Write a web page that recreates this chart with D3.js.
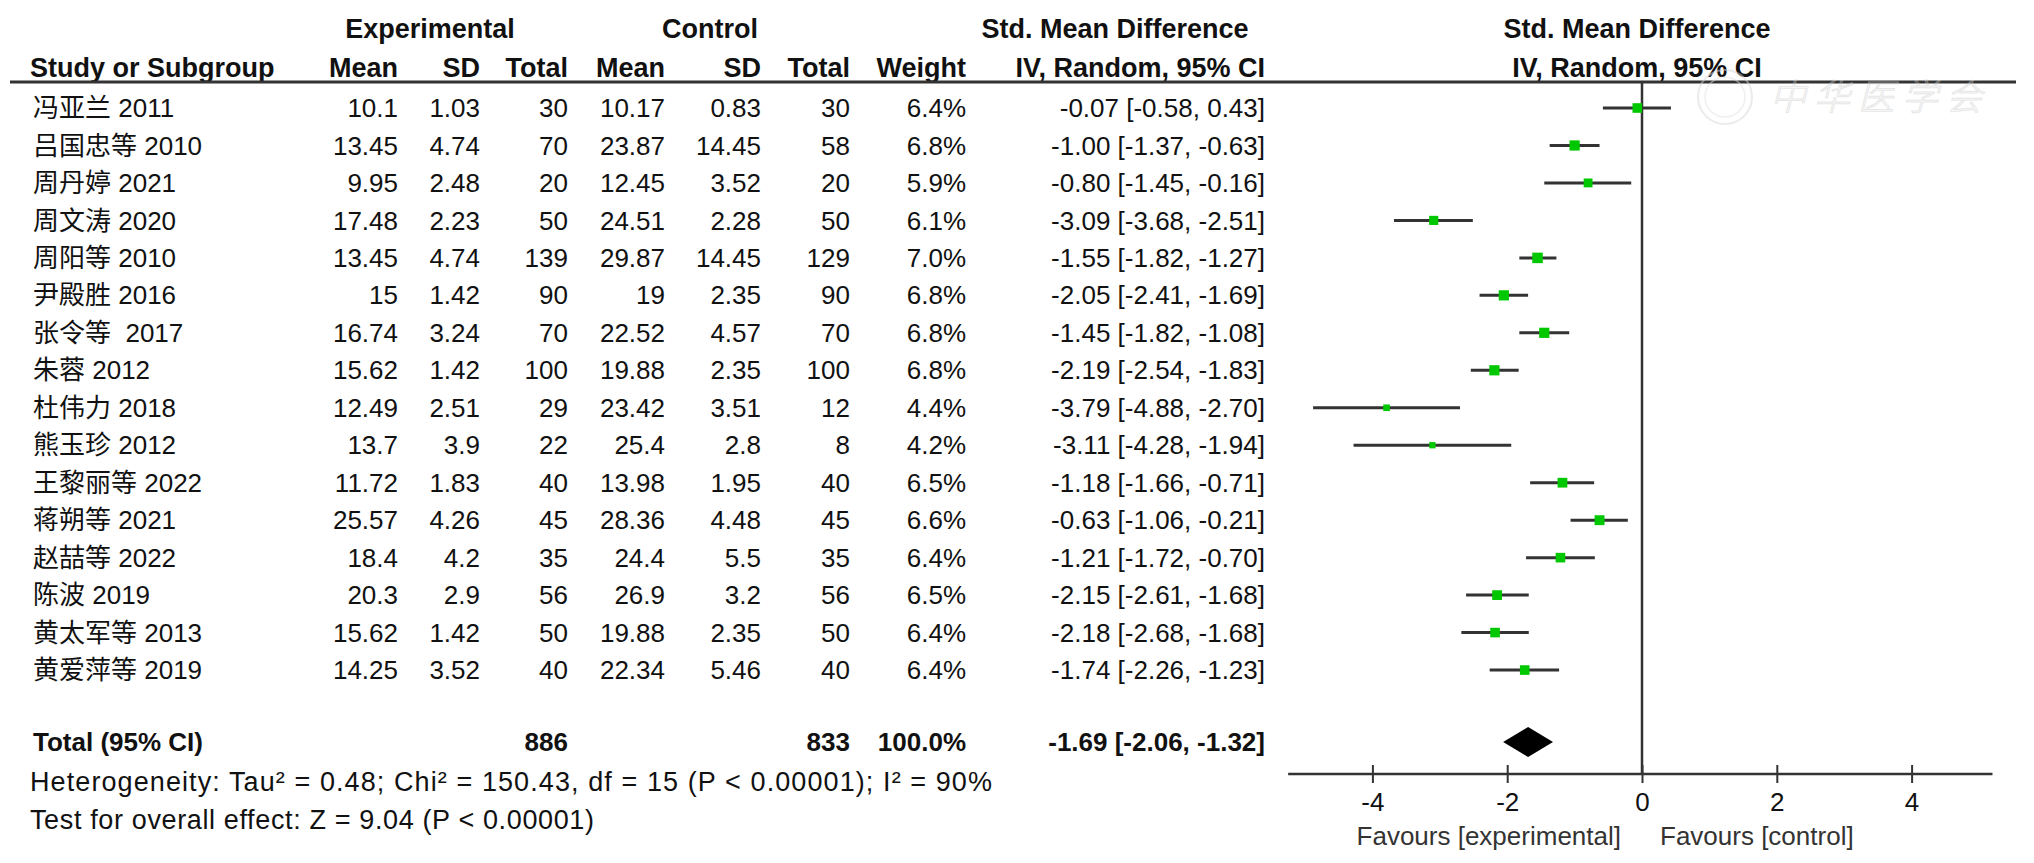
<!DOCTYPE html>
<html>
<head>
<meta charset="utf-8">
<script src="https://cdn.jsdelivr.net/npm/d3@7"></script>
<style>
  body { margin: 0; background: #fff; }
  svg text { font-family: "Liberation Sans", Arial, "Noto Sans CJK SC", sans-serif; fill: #111; white-space: pre; }
  .hdr { font-weight: bold; font-size: 27px; }
  .cell { font-size: 26px; }
  .tot { font-size: 26px; font-weight: bold; }
</style>
</head>
<body>
<div id="chart"></div>
<script>
// dados
const studies = ["冯亚兰 2011", "吕国忠等 2010", "周丹婷 2021", "周文涛 2020", "周阳等 2010", "尹殿胜 2016",
    "张令等  2017", "朱蓉 2012", "杜伟力 2018", "熊玉珍 2012", "王黎丽等 2022", "蒋朔等 2021",
    "赵喆等 2022", "陈波 2019", "黄太军等 2013", "黄爱萍等 2019"];
const expMean = [10.1, 13.45, 9.95, 17.48, 13.45, 15, 16.74, 15.62, 12.49, 13.7, 11.72, 25.57, 18.4, 20.3, 15.62, 14.25];
const expSD = [1.03, 4.74, 2.48, 2.23, 4.74, 1.42, 3.24, 1.42, 2.51, 3.9, 1.83, 4.26, 4.2, 2.9, 1.42, 3.52];
const expTotal = [30, 70, 20, 50, 139, 90, 70, 100, 29, 22, 40, 45, 35, 56, 50, 40];
const ctlMean = [10.17, 23.87, 12.45, 24.51, 29.87, 19, 22.52, 19.88, 23.42, 25.4, 13.98, 28.36, 24.4, 26.9, 19.88, 22.34];
const ctlSD = [0.83, 14.45, 3.52, 2.28, 14.45, 2.35, 4.57, 2.35, 3.51, 2.8, 1.95, 4.48, 5.5, 3.2, 2.35, 5.46];
const ctlTotal = [30, 58, 20, 50, 129, 90, 70, 100, 12, 8, 40, 45, 35, 56, 50, 40];
const weights = [6.4, 6.8, 5.9, 6.1, 7.0, 6.8, 6.8, 6.8, 4.4, 4.2, 6.5, 6.6, 6.4, 6.5, 6.4, 6.4];
const smd = [-0.07, -1.00, -0.80, -3.09, -1.55, -2.05, -1.45, -2.19, -3.79, -3.11, -1.18, -0.63, -1.21, -2.15, -2.18, -1.74];
const ciLow = [-0.58, -1.37, -1.45, -3.68, -1.82, -2.41, -1.82, -2.54, -4.88, -4.28, -1.66, -1.06, -1.72, -2.61, -2.68, -2.26];
const ciHigh = [0.43, -0.63, -0.16, -2.51, -1.27, -1.69, -1.08, -1.83, -2.70, -1.94, -0.71, -0.21, -0.70, -1.68, -1.68, -1.23];

const totalExp = 886, totalCtl = 833, totalWeight = 100.0;
const pooled = { est: -1.69, lo: -2.06, hi: -1.32 };
const axisTicks = [-4, -2, 0, 2, 4];
const axisExtent = [-5.25, 5.2];
const heterogeneity = "Heterogeneity: Tau² = 0.48; Chi² = 150.43, df = 15 (P < 0.00001); I² = 90%";
const overallTest = "Test for overall effect: Z = 9.04 (P < 0.00001)";

const W = 2034, H = 863;
const svg = d3.select("#chart").append("svg").attr("width", W).attr("height", H);

const rowY = i => 108 + i * 37.47;
const totalY = 742;

// colunas (posição direita)
const cols = [
    { key: "expMean", x: 398, vals: expMean.map(String), head: "Mean" },
    { key: "expSD", x: 480, vals: expSD.map(String), head: "SD" },
    { key: "expTotal", x: 568, vals: expTotal.map(String), head: "Total" },
    { key: "ctlMean", x: 665, vals: ctlMean.map(String), head: "Mean" },
    { key: "ctlSD", x: 761, vals: ctlSD.map(String), head: "SD" },
    { key: "ctlTotal", x: 850, vals: ctlTotal.map(String), head: "Total" },
    { key: "weight", x: 966, vals: weights.map(w => w.toFixed(1) + "%"), head: "Weight" },
    { key: "ci", x: 1265, vals: smd.map((d, i) => `${d.toFixed(2)} [${ciLow[i].toFixed(2)}, ${ciHigh[i].toFixed(2)}]`), head: "IV, Random, 95% CI" }
];

// cabeçalho
const h1 = 38, h2 = 77;
[["Experimental", 430], ["Control", 710], ["Std. Mean Difference", 1115], ["Std. Mean Difference", 1637]]
    .forEach(([t, x]) => svg.append("text").attr("class", "hdr").attr("x", x).attr("y", h1)
        .attr("text-anchor", "middle").text(t));
svg.append("text").attr("class", "hdr").attr("x", 30).attr("y", h2).text("Study or Subgroup");
cols.forEach(c => svg.append("text").attr("class", "hdr").attr("x", c.x).attr("y", h2)
    .attr("text-anchor", "end").text(c.head));
svg.append("text").attr("class", "hdr").attr("x", 1637).attr("y", h2)
    .attr("text-anchor", "middle").text("IV, Random, 95% CI");

svg.append("line").attr("x1", 10).attr("x2", 2016).attr("y1", 82).attr("y2", 82)
    .attr("stroke", "#333").attr("stroke-width", 3);

// linhas da tabela
svg.append("g").selectAll("text").data(studies).enter().append("text")
    .attr("class", "cell").attr("x", 33).attr("y", (d, i) => rowY(i)).attr("dy", "0.35em").text(d => d);

cols.forEach(c => {
    svg.append("g").selectAll("text").data(c.vals).enter().append("text")
        .attr("class", "cell").attr("x", c.x).attr("y", (d, i) => rowY(i)).attr("dy", "0.35em")
        .attr("text-anchor", "end").text(d => d);
});

// total
svg.append("text").attr("class", "tot").attr("x", 33).attr("y", totalY).attr("dy", "0.35em").text("Total (95% CI)");
[[totalExp, 568], [totalCtl, 850], [totalWeight.toFixed(1) + "%", 966],
 [`${pooled.est.toFixed(2)} [${pooled.lo.toFixed(2)}, ${pooled.hi.toFixed(2)}]`, 1265]]
    .forEach(([t, x]) => svg.append("text").attr("class", "tot").attr("x", x).attr("y", totalY)
        .attr("dy", "0.35em").attr("text-anchor", "end").text(t));

svg.append("text").attr("class", "cell").attr("x", 30).attr("y", 782).attr("dy", "0.35em")
    .style("font-size", "27px").attr("textLength", 962).text(heterogeneity);
svg.append("text").attr("class", "cell").attr("x", 30).attr("y", 820).attr("dy", "0.35em")
    .style("font-size", "27px").attr("textLength", 564).text(overallTest);

// forest plot
const x = d3.scaleLinear().domain([-5, 5]).range([1642 - 5 * 67.4, 1642 + 5 * 67.4]);
const axisY = 774;

// marca d'água
const wm = svg.append("g").attr("opacity", 0.5);
wm.append("circle").attr("cx", 1725).attr("cy", 97).attr("r", 27)
    .attr("fill", "none").attr("stroke", "#d8d8d8").attr("stroke-width", 2);
wm.append("circle").attr("cx", 1725).attr("cy", 97).attr("r", 20)
    .attr("fill", "none").attr("stroke", "#e2e2e2").attr("stroke-width", 1.5);
wm.append("text").attr("x", 1770).attr("y", 97).attr("dy", "0.35em")
    .style("font-family", "'Noto Sans CJK SC', sans-serif").style("font-size", "36px")
    .style("font-style", "italic").style("font-weight", "300").style("letter-spacing", "8px")
    .style("fill", "none").style("stroke", "#cfcfcf").style("stroke-width", 1)
    .text("中华医学会");

svg.append("line").attr("x1", x(0)).attr("x2", x(0)).attr("y1", 82).attr("y2", axisY)
    .attr("stroke", "#333").attr("stroke-width", 2.5);

const size = d3.scaleLinear().domain([0, 7]).range([0, 10.5]);

const g = svg.append("g");
studies.forEach((s, i) => {
    g.append("line").attr("x1", x(ciLow[i])).attr("x2", x(ciHigh[i]))
        .attr("y1", rowY(i)).attr("y2", rowY(i))
        .attr("stroke", "#333").attr("stroke-width", 3);
    const sz = size(weights[i]);
    g.append("rect").attr("x", x(smd[i]) - sz / 2).attr("y", rowY(i) - sz / 2)
        .attr("width", sz).attr("height", sz).attr("fill", "#00c800");
});

// diamante
svg.append("path")
    .attr("d", `M${x(pooled.lo)},${totalY} L${x(pooled.est)},${totalY - 15} L${x(pooled.hi)},${totalY} L${x(pooled.est)},${totalY + 15} Z`)
    .attr("fill", "#000");

// eixo
svg.append("line").attr("x1", x(axisExtent[0])).attr("x2", x(axisExtent[1]))
    .attr("y1", axisY).attr("y2", axisY).attr("stroke", "#333").attr("stroke-width", 2.5);
const ax = svg.append("g").attr("transform", `translate(0,${axisY})`)
    .call(d3.axisBottom(x).tickValues(axisTicks).tickSize(9).tickPadding(10).tickFormat(d => String(d)));
ax.select(".domain").remove();
ax.selectAll(".tick line").attr("y1", -9).attr("y2", 9).attr("stroke", "#333").attr("stroke-width", 2);
ax.selectAll(".tick text").attr("font-size", 26).attr("font-family", "'Liberation Sans', Arial, sans-serif").attr("fill", "#111");

svg.append("text").attr("class", "cell").attr("x", 1621).attr("y", 836).attr("dy", "0.35em")
    .attr("text-anchor", "end").style("fill", "#333").text("Favours [experimental]");
svg.append("text").attr("class", "cell").attr("x", 1660).attr("y", 836).attr("dy", "0.35em")
    .style("fill", "#333").text("Favours [control]");
</script>
</body>
</html>
